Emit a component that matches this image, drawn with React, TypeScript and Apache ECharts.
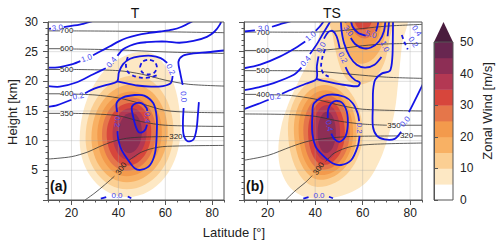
import React, { useEffect, useRef } from 'react';
import * as echarts from 'echarts';

type P = [number, number];
type Oval = [number, P, P, P, P]; // level, west, north, east, south extremes (lat, km)
type Poly = [number, P[]]; // level, outline (lat, km)
type Lab = [string, number, number, number]; // text, lat, km, rotation deg

const FONT = '"Liberation Sans", Arial, Helvetica, sans-serif';

// ---------- axes ----------
const LAT_MAJOR = [20, 40, 60, 80];
const GRID_LATS = [20, 40, 60, 80];
const GRID_HEIGHTS = [5, 10, 15, 20, 25];

// ---------- colour scale (zonal wind, m/s) ----------
const CB_BOUNDS = [0, 5, 10, 15, 20, 25, 30, 35, 40, 45, 50];
const CB_COLORS = ['#ffffff', '#fde8c4', '#fbcf93', '#f8b164', '#f39a4c', '#e5764a', '#d7463c', '#b33853', '#8d2e55', '#682650'];
const CB_OVER = '#4a1c3e';

// ---------- (a) T : filled zonal wind ----------
const A_WIND: Oval[] = [
  [5, [23.5, 10], [51, 25], [66.5, 12], [44, 0.5]],
  [10, [26, 10.5], [47, 21], [63.5, 11.5], [43.5, 1.8]],
  [15, [28.5, 10.5], [46, 19.5], [61, 11.5], [43.5, 3]],
  [20, [31, 11], [45.5, 18.3], [58.5, 11.5], [43.5, 4]],
  [25, [33, 11], [45.5, 17.3], [56, 11.5], [43.5, 4.9]],
  [30, [35, 11.1], [45.5, 16.4], [54, 11.5], [44, 5.8]],
  [35, [37.5, 11.2], [45.5, 15.5], [52, 11.5], [44, 6.8]],
  [40, [40, 11.3], [45.5, 14.7], [50, 11.5], [44.5, 7.9]],
];

// ---------- (b) TS : filled zonal wind ----------
const B_WIND_JET: Oval[] = [
  [10, [28.5, 12], [44, 20.6], [60, 11.3], [41, 2.2]],
  [15, [31, 12], [44, 19.4], [57.5, 11.3], [42, 3.4]],
  [20, [33, 12], [44.3, 18.5], [56, 11.3], [42.5, 4.2]],
  [25, [35, 11.8], [44.5, 17.7], [54.5, 11.3], [43, 5.1]],
  [30, [37, 11.5], [44.8, 16.9], [52.5, 11.3], [43.5, 5.9]],
  [35, [39, 11.5], [45, 16], [50.5, 11.3], [44, 6.7]],
  [40, [41, 11.3], [45, 14.9], [48.7, 11.3], [44.5, 7.9]],
];
const B_WIND_UPPER: Poly[] = [
  [5, [[38, 0.3], [31, 1.5], [26.5, 4], [24.5, 7.5], [25.5, 12], [28.5, 16], [33, 20], [38, 24], [41.5, 27.5], [43.5, 31.5], [78, 31.5], [76.5, 26], [75, 20], [73.5, 15], [71, 11], [67, 6.5], [61, 2.8], [50, 0.6]]],
  [10, [[46.5, 31.5], [47.5, 27.5], [49, 24.5], [51.5, 21.5], [55, 19.8], [60, 19.5], [65, 20.5], [69, 23], [71, 26.5], [72, 31.5]]],
  [15, [[51, 31.5], [52, 27.5], [54.5, 24.5], [58.5, 23], [63.5, 23.5], [67.5, 25.5], [69.5, 28], [70, 31.5]]],
  [20, [[53, 31.5], [54.2, 28], [57, 26], [61, 25.3], [65, 26.3], [67.3, 28.5], [68, 31.5]]],
  [25, [[54.5, 31.5], [55.8, 28.8], [58.5, 27.5], [62, 27.3], [65, 28.5], [66, 31.5]]],
  [30, [[56, 31.5], [57.5, 29.3], [60, 28.7], [63, 29.3], [64, 31.5]]],
];

// ---------- potential temperature contours (black) ----------
const A_THETA: P[][] = [
  [[10, 28.5], [15.2, 28.5]], [[20.8, 28.5], [40, 28.45], [60, 28.35], [85, 28.2]],
  [[10, 25.5], [15.2, 25.5]], [[20.8, 25.45], [40, 25.3], [60, 24.95], [85, 24.7]],
  [[10, 22.0], [15.2, 22.0]], [[20.8, 22.0], [40, 21.8], [50, 21.2], [60, 20.2], [70, 19.5], [85, 19.2]],
  [[10, 17.9], [15.2, 17.9]], [[20.8, 17.85], [30, 17.7], [40, 17.2], [50, 16.2], [60, 15.1], [70, 14.8], [85, 14.7]],
  [[10, 14.6], [15.2, 14.6]], [[20.8, 14.6], [30, 14.5], [40, 14.2], [50, 13.2], [60, 12.6], [85, 12.4]],
  [[10, 6.9], [20, 7.3], [27, 8.1], [32, 9], [38, 9.9], [43.5, 10.4], [50, 10.6], [61.5, 10.7]], [[67.5, 10.7], [85, 10.7]],
  [[25.8, 0], [30, 1.2], [34, 2.5], [38.3, 4.0]], [[44.2, 6.6], [50, 8.1], [57, 8.9], [65, 9.1], [85, 9.2]],
];
const A_THETA_LABELS: Lab[] = [
  ['700', 18, 28.5, 0], ['600', 18, 25.5, 0], ['500', 18, 22, 0], ['400', 18, 17.9, 0],
  ['350', 18, 14.6, 0], ['320', 64.5, 10.7, 0], ['300', 41.2, 5.3, 55],
];
const B_THETA: P[][] = [
  [[10, 28.3], [15.2, 28.3]], [[20.8, 28.3], [40, 28.3], [50, 28.5], [60, 28.9], [70, 29.3], [85, 29.6]],
  [[10, 25.2], [15.2, 25.2]], [[20.8, 25.2], [40, 25.2], [50, 25.5], [60, 26.0], [70, 26.3], [85, 26.4]],
  [[10, 21.8], [15.2, 21.8]], [[20.8, 21.8], [40, 21.7], [55, 21.2], [70, 20.7], [85, 20.5]],
  [[10, 17.8], [15.2, 17.8]], [[20.8, 17.75], [30, 17.6], [40, 17.0], [50, 16.0], [60, 15.3], [85, 15.0]],
  [[10, 14.5], [30, 14.4], [40, 14.1], [50, 13.3], [60, 12.8], [70.2, 12.6]], [[76.2, 12.6], [85, 12.6]],
  [[10, 6.7], [20, 7.5], [30, 9.0], [37, 9.9], [45, 10.4], [55, 10.7], [75.5, 10.8]], [[81.5, 10.8], [85, 10.8]],
  [[27.5, 0], [32, 1.7], [36, 3.0], [38.7, 4.1]], [[44.4, 6.5], [48, 7.9], [55, 9.0], [65, 9.4], [85, 9.6]],
];
const B_THETA_LABELS: Lab[] = [
  ['700', 18, 28.3, 0], ['600', 18, 25.2, 0], ['500', 18, 21.8, 0], ['400', 18, 17.8, 0],
  ['350', 73.2, 12.6, 0], ['320', 78.5, 10.8, 0], ['300', 41.5, 5.3, 55],
];

// ---------- blue contours ----------
const A_BLUE: P[][] = [
  [[10, 28.85], [11.3, 28.9]],
  [[16.7, 29.15], [20, 29.35], [25, 29.7], [31, 30.4]],
  [[10, 22.3], [15, 22.4], [20.5, 22.9], [23.8, 23.4]],
  [[29.2, 24.4], [33, 25.2], [36.4, 25.9], [40, 26.7], [43.5, 27.3], [48, 27.8], [52, 28.1], [58, 28.4], [63, 28.7], [67, 29.2], [71, 30], [72.5, 30.4]],
  [[10, 19.2], [15, 19.1], [22, 19.8], [29.3, 21.2], [34.6, 22.2]],
  [[39.6, 24.3], [42, 25.4], [44.9, 26], [48, 26.4], [52, 26.6], [56, 26.7], [60.6, 26.7], [66, 26.5], [72, 26.8], [77.7, 27.5], [81, 28.4], [83.3, 29.6], [84, 30.4]],
  [[10, 15.7], [14, 16], [20, 16.9]],
  [[25.8, 18], [30, 18.8], [35, 19.4], [39.5, 20], [40.2, 21.5], [42, 22.9], [45, 23.8], [49, 24.2], [54, 24.3], [58, 23.9], [60.8, 23.1]],
  [[63.1, 20.9], [62.3, 19.7], [59, 19.2], [54, 19.1], [48, 19.3], [43, 19.7], [39.5, 20]],
  [[85, 25.2], [78, 24.9], [72, 24.7], [67.5, 24.3], [65.6, 23.3], [66.3, 21.5], [67.4, 19.4]],
  [[67.8, 15.5], [67.5, 13], [67.8, 11], [69.5, 9.9], [72, 10.2], [73.3, 12], [73.9, 14.5], [74.3, 16.5]],
  [[39.5, 14.8], [39.3, 16.4], [42, 17.3], [47, 17.7], [51, 17.6], [54.9, 16.3], [56.3, 14], [56.3, 10.7], [55.6, 7.9], [53.5, 5.9], [49.9, 5.1], [47.1, 5.3], [44.2, 6.7], [41.4, 8.4], [40, 10.1], [39.6, 11.6]],
  [[52.2, 12.7], [51.5, 11.9], [50, 11.4], [48.5, 11.5], [47.3, 12.5], [46.3, 14], [45.7, 15.6], [47.5, 16.3], [50, 16.3], [52, 15.5], [52.3, 15]],
  [[32.5, 0.25], [34.8, 0.5]], [[44, 0.6], [45.5, 0.3]],
];
const A_BLUE_DASH: P[][] = [
  [[49.2, 22.4], [50.2, 23.3], [52.8, 23.65], [55.4, 23.3], [56.4, 22.4], [55.4, 21.5], [52.8, 21.15], [50.2, 21.5], [49.2, 22.4]],
  [[44, 24.1], [43.2, 22.8], [44, 21.6], [46.5, 20.9], [50, 20.6], [54, 20.7], [57, 21.1]],
];
const A_BLUE_LABELS: Lab[] = [
  ['3.0', 14, 29, 5], ['1.0', 26.5, 23.9, 20], ['0.4', 37.1, 23.2, 50], ['0.2', 22.9, 17.5, 12],
  ['0.2', 62.2, 22, -65], ['0.0', 67.7, 17.4, -85], ['0.2', 39.6, 13.2, -90], ['0.4', 52.3, 13.9, -90],
  ['0.0', 39.4, 0.75, 0],
];
const B_BLUE: P[][] = [
  [[10, 28.4], [14.6, 28.6]],
  [[21.8, 29.2], [26.7, 29.8], [32, 30.4]],
  [[10, 22.2], [16.8, 22.8], [25.3, 24.2], [32.4, 25.8], [35.8, 26.7]],
  [[40.2, 28.5], [42.3, 29.4], [44, 30.4]],
  [[10, 18.5], [16, 19], [22.5, 19.7], [31, 21.1], [34.2, 22.3]],
  [[37.8, 24.6], [40.9, 26.4], [43.8, 28.4], [45.9, 29.8], [46.6, 30.4]],
  [[10, 15.3], [16, 16.2], [20.4, 16.9]],
  [[26, 17.9], [31, 18.8], [36, 19.6], [40.5, 20.4], [40.7, 22.5], [41.4, 24.2]],
  [[43.7, 27.2], [45.5, 28.3], [47.3, 28.5], [49, 27.6], [50.3, 25.6]],
  [[52.8, 22.4], [54.5, 21.1], [56.8, 20.2], [58.8, 19.8], [58, 19.2], [54, 19.3], [48, 19.7], [43, 20.1], [40.5, 20.4]],
  [[58.7, 10.8], [57.9, 9], [55.1, 6.7], [50.9, 5.9], [47.3, 6.2], [43, 7.6], [40.2, 9], [38.8, 11.2], [38.8, 14.1], [39.5, 16.3], [45.2, 17.7], [52.3, 17.4], [55.8, 16.3], [57.9, 14.6], [58.5, 13.3]],
  [[45.3, 13.8], [45.6, 15.4], [47.8, 16.6], [51, 16.5], [53.3, 14.9], [53.7, 12.5], [52.6, 10.6], [50.2, 9.8], [48, 10.3], [46.8, 11.2]],
  [[55, 30.4], [55.8, 29.2], [58, 28.2], [61.3, 27.7]], [[65.6, 28.4], [66.3, 29.4], [66.7, 30.4]],
  [[52.5, 30.4], [52.9, 29.9]], [[55, 27.3], [56.8, 26.3], [60, 25.6], [63.5, 25.7], [67, 26.8], [69, 28.5], [69.6, 30.4]],
  [[50.8, 30.4], [51.1, 28.6], [52.2, 26.4], [54.5, 24.2], [57.5, 22.8], [61, 22.3], [65, 22.8], [67.9, 24.1]], [[70.5, 27.6], [71.2, 30.4]],
  [[72.8, 30.4], [72.7, 27], [72.5, 24], [71.5, 21.8], [68, 21.3], [65.3, 20.3], [64.4, 18.5], [64.3, 16], [64.3, 12.4], [66, 10.8], [69.3, 10.2], [73.5, 10.3], [76.2, 11.5]],
  [[79.5, 14.8], [81, 16], [83, 17.6], [85.5, 19.6]],
  [[35, 0.25], [37.2, 0.5]], [[45.8, 0.55], [47.5, 0.3]],
];
const B_BLUE_DASH: P[][] = [
  [[44.2, 25.4], [43, 24], [42.5, 22.5], [43.5, 21.3], [45.7, 20.8]],
  [[76.5, 27.8], [77.6, 26.6], [79, 25.4]],
];
const B_BLUE_LABELS: Lab[] = [
  ['3.0', 18.2, 28.9, 5], ['1.0', 38.1, 27.6, 40], ['0.4', 36, 23.4, 50], ['0.2', 23.2, 17.4, 10],
  ['0.0', 42.6, 25.7, 60], ['0.2', 51.6, 24.0, -65], ['0.2', 58.6, 12.1, -90], ['0.4', 45.9, 12.5, -80],
  ['5.0', 63.5, 27.9, -15], ['3.0', 53.9, 28.5, -55], ['1.0', 69.3, 25.9, -65], ['0.0', 77.9, 13.2, 50],
  ['0.4', 82.8, 28.5, -55], ['0.2', 81.3, 26.6, -55], ['0.0', 41.6, 0.7, 0],
];

// ---------- layout ----------
const PANELS = [
  { left: 48, top: 22, width: 176, height: 178 },
  { left: 244, top: 22, width: 178, height: 178 },
];
const CBAR = { left: 434, top: 42, width: 19, height: 158 };

const BLUE = '#1414e6';
const BLUE_TXT = '#4646f0';
const K = 0.5523;

function levelColor(level: number) {
  return CB_COLORS[Math.round(level / 5)] || CB_OVER;
}

function ovalPath(api: any, o: Oval) {
  const w = api.coord(o[1]);
  const n = api.coord(o[2]);
  const e = api.coord(o[3]);
  const s = api.coord(o[4]);
  const seg = (a: number[], b: number[], aVert: boolean, bVert: boolean) => {
    const c1 = aVert ? [a[0], a[1] + K * (b[1] - a[1])] : [a[0] + K * (b[0] - a[0]), a[1]];
    const c2 = bVert ? [b[0], b[1] + K * (a[1] - b[1])] : [b[0] + K * (a[0] - b[0]), b[1]];
    return `C${c1[0]},${c1[1]} ${c2[0]},${c2[1]} ${b[0]},${b[1]} `;
  };
  return `M${w[0]},${w[1]} ` + seg(w, n, true, false) + seg(n, e, false, true) + seg(e, s, true, false) + seg(s, w, false, true) + 'Z';
}

type FillItem = { level: number; oval?: Oval; poly?: P[]; anchor: P };

function fillItems(ovals: Oval[], polys: Poly[]): FillItem[] {
  const items: FillItem[] = [];
  polys.forEach((p) => items.push({ level: p[0], poly: p[1], anchor: [p[1][0][0], Math.min(p[1][0][1], 30)] }));
  ovals.forEach((o) => items.push({ level: o[0], oval: o, anchor: o[1] }));
  return items.sort((a, b) => a.level - b.level);
}

function fillSeries(xi: number, yi: number, items: FillItem[]) {
  return {
    type: 'custom', xAxisIndex: xi, yAxisIndex: yi, clip: true, silent: true, z: 2,
    data: items.map((it) => it.anchor),
    renderItem: (params: any, api: any) => {
      const it = items[params.dataIndex];
      const fill = levelColor(it.level);
      if (it.oval) {
        return { type: 'path', shape: { pathData: ovalPath(api, it.oval) }, style: { fill, stroke: 'none' } };
      }
      return { type: 'polygon', shape: { points: (it.poly as P[]).map((p) => api.coord(p)), smooth: 0.35 }, style: { fill, stroke: 'none' } };
    },
  };
}

function lineSeries(xi: number, yi: number, lines: P[][], color: string, width: number, dash: boolean, z: number) {
  return {
    type: 'custom', xAxisIndex: xi, yAxisIndex: yi, clip: true, silent: true, z,
    data: lines.map((l) => [l[0][0], Math.min(l[0][1], 30)]),
    renderItem: (params: any, api: any) => {
      const pts = lines[params.dataIndex].map((p) => api.coord(p));
      return {
        type: 'polyline',
        shape: { points: pts, smooth: pts.length > 2 ? 0.3 : 0 },
        style: { stroke: color, lineWidth: width, fill: 'none', lineDash: dash ? [4, 3] : null },
      };
    },
  };
}

function labelSeries(xi: number, yi: number, labels: Lab[], color: string, z: number) {
  return {
    type: 'custom', xAxisIndex: xi, yAxisIndex: yi, clip: false, silent: true, z,
    data: labels.map((l) => [l[1], l[2]]),
    renderItem: (params: any, api: any) => {
      const [text, lat, h, rot] = labels[params.dataIndex];
      const c = api.coord([lat, h]);
      return {
        type: 'text', x: c[0], y: c[1], rotation: (rot * Math.PI) / 180,
        style: { text, fill: color, font: `8px ${FONT}`, textAlign: 'center', textVerticalAlign: 'middle', align: 'center', verticalAlign: 'middle' },
      };
    },
  };
}

function gridLineSeries(xi: number, yi: number) {
  return {
    type: 'custom', xAxisIndex: xi, yAxisIndex: yi, clip: true, silent: true, z: 3,
    data: [[10, 0]],
    renderItem: (_p: any, api: any) => {
      const children: any[] = [];
      const st = { stroke: 'rgba(160,160,160,0.32)', lineWidth: 1 };
      GRID_LATS.forEach((lat) => {
        const a = api.coord([lat, 0]);
        const b = api.coord([lat, 30]);
        children.push({ type: 'line', shape: { x1: a[0], y1: a[1], x2: b[0], y2: b[1] }, style: st });
      });
      GRID_HEIGHTS.forEach((h) => {
        const a = api.coord([10, h]);
        const b = api.coord([85, h]);
        children.push({ type: 'line', shape: { x1: a[0], y1: a[1], x2: b[0], y2: b[1] }, style: st });
      });
      return { type: 'group', children };
    },
  };
}

const AXIS_COLOR = '#555';

function xAxesFor(grid: number) {
  return [
    {
      gridIndex: grid, type: 'value', min: 10, max: 85, interval: 5, position: 'bottom', z: 10,
      axisLine: { show: true, lineStyle: { color: AXIS_COLOR } },
      axisTick: { show: true, length: 2.5, lineStyle: { color: AXIS_COLOR } },
      axisLabel: { fontSize: 12, fontFamily: FONT, color: '#222', margin: 7, formatter: (v: number) => (LAT_MAJOR.indexOf(v) >= 0 ? String(v) : '') },
      splitLine: { show: false },
    },
    {
      gridIndex: grid, type: 'value', min: 10, max: 85, position: 'bottom', z: 10,
      axisLine: { show: false },
      axisTick: { show: true, length: 5, customValues: LAT_MAJOR, lineStyle: { color: AXIS_COLOR } },
      axisLabel: { show: false },
      splitLine: { show: false },
    },
  ];
}

function yAxisFor(grid: number, labels: boolean) {
  return {
    gridIndex: grid, type: 'value', min: 0, max: 30, interval: 5, position: 'left', z: 10,
    axisLine: { show: true, lineStyle: { color: AXIS_COLOR } },
    axisTick: { show: true, length: 5, lineStyle: { color: AXIS_COLOR } },
    minorTick: { show: true, splitNumber: 5, length: 2.5, lineStyle: { color: AXIS_COLOR } },
    axisLabel: { show: labels, fontSize: 12, fontFamily: FONT, color: '#222', margin: 10, formatter: (v: number) => (v === 0 ? '' : String(v)) },
    splitLine: { show: false },
  };
}

export default function App() {
  const ref = useRef<HTMLDivElement>(null);
  useEffect(() => {
    if (!ref.current) return;
    const chart = echarts.init(ref.current, null, { renderer: 'svg' });
    const aItems = fillItems(A_WIND, []);
    const bItems = fillItems(B_WIND_JET, B_WIND_UPPER);

    const option: any = {
      animation: false,
      grid: [
        { ...PANELS[0], containLabel: false },
        { ...PANELS[1], containLabel: false },
        { ...CBAR, containLabel: false },
      ],
      xAxis: [
        ...xAxesFor(0),
        ...xAxesFor(1),
        { gridIndex: 2, type: 'value', min: 0, max: 1, show: false },
      ],
      yAxis: [
        yAxisFor(0, true),
        yAxisFor(1, false),
        {
          gridIndex: 2, type: 'value', min: 0, max: 50, interval: 10, position: 'right', z: 10,
          axisLine: { show: true, lineStyle: { color: AXIS_COLOR } },
          axisTick: { show: true, length: 4, lineStyle: { color: AXIS_COLOR } },
          axisLabel: { fontSize: 12, fontFamily: FONT, color: '#222', margin: 7 },
          splitLine: { show: false },
        },
      ],
      series: [
        fillSeries(0, 0, aItems),
        gridLineSeries(0, 0),
        lineSeries(0, 0, A_THETA, '#333', 0.8, false, 4),
        lineSeries(0, 0, A_BLUE, BLUE, 1.8, false, 5),
        lineSeries(0, 0, A_BLUE_DASH, BLUE, 1.8, true, 5),
        labelSeries(0, 0, A_THETA_LABELS, '#222', 6),
        labelSeries(0, 0, A_BLUE_LABELS, BLUE_TXT, 6),

        fillSeries(2, 1, bItems),
        gridLineSeries(2, 1),
        lineSeries(2, 1, B_THETA, '#333', 0.8, false, 4),
        lineSeries(2, 1, B_BLUE, BLUE, 1.8, false, 5),
        lineSeries(2, 1, B_BLUE_DASH, BLUE, 1.8, true, 5),
        labelSeries(2, 1, B_THETA_LABELS, '#222', 6),
        labelSeries(2, 1, B_BLUE_LABELS, BLUE_TXT, 6),

        {
          type: 'custom', xAxisIndex: 4, yAxisIndex: 2, clip: false, silent: true, z: 2,
          data: CB_COLORS.map((_, i) => [0, CB_BOUNDS[i]]).concat([[0, 50]]),
          renderItem: (params: any, api: any) => {
            const i = params.dataIndex;
            if (i < CB_COLORS.length) {
              const p1 = api.coord([0, CB_BOUNDS[i + 1]]);
              const p2 = api.coord([1, CB_BOUNDS[i]]);
              return { type: 'rect', shape: { x: p1[0], y: p1[1], width: p2[0] - p1[0], height: p2[1] - p1[1] + 0.4 }, style: { fill: CB_COLORS[i], stroke: 'none' } };
            }
            const a = api.coord([0, 50]);
            const b = api.coord([1, 50]);
            const tip = [(a[0] + b[0]) / 2, a[1] - 20];
            return { type: 'polygon', shape: { points: [a, b, tip] }, style: { fill: CB_OVER, stroke: 'none' } };
          },
        },
      ],
      graphic: [
        { type: 'rect', z: 100, shape: { x: PANELS[0].left, y: PANELS[0].top, width: PANELS[0].width, height: PANELS[0].height }, style: { fill: 'none', stroke: AXIS_COLOR, lineWidth: 1 } },
        { type: 'rect', z: 100, shape: { x: PANELS[1].left, y: PANELS[1].top, width: PANELS[1].width, height: PANELS[1].height }, style: { fill: 'none', stroke: AXIS_COLOR, lineWidth: 1 } },
        { type: 'rect', z: 100, shape: { x: CBAR.left, y: CBAR.top, width: CBAR.width, height: CBAR.height }, style: { fill: 'none', stroke: AXIS_COLOR, lineWidth: 1 } },
        { type: 'text', z: 100, x: 135, y: 13, style: { text: 'T', font: `14px ${FONT}`, fill: '#111', textAlign: 'center', textVerticalAlign: 'middle' } },
        { type: 'text', z: 100, x: 332, y: 13, style: { text: 'TS', font: `14px ${FONT}`, fill: '#111', textAlign: 'center', textVerticalAlign: 'middle' } },
        { type: 'text', z: 100, x: 50, y: 186, style: { text: '(a)', font: `bold 14px ${FONT}`, fill: '#111', textAlign: 'left', textVerticalAlign: 'middle' } },
        { type: 'text', z: 100, x: 246, y: 186, style: { text: '(b)', font: `bold 14px ${FONT}`, fill: '#111', textAlign: 'left', textVerticalAlign: 'middle' } },
        { type: 'text', z: 100, x: 12, y: 112, rotation: Math.PI / 2, style: { text: 'Height [km]', font: `13px ${FONT}`, fill: '#222', textAlign: 'center', textVerticalAlign: 'middle' } },
        { type: 'text', z: 100, x: 234, y: 232, style: { text: 'Latitude [°]', font: `13px ${FONT}`, fill: '#222', textAlign: 'center', textVerticalAlign: 'middle' } },
        { type: 'text', z: 100, x: 487, y: 111, rotation: Math.PI / 2, style: { text: 'Zonal Wind [m/s]', font: `13px ${FONT}`, fill: '#222', textAlign: 'center', textVerticalAlign: 'middle' } },
      ],
    };
    chart.setOption(option);
    return () => chart.dispose();
  }, []);

  return <div ref={ref} style={{ position: 'fixed', left: 0, top: 0, width: 500, height: 245, background: '#fff' }} />;
}
